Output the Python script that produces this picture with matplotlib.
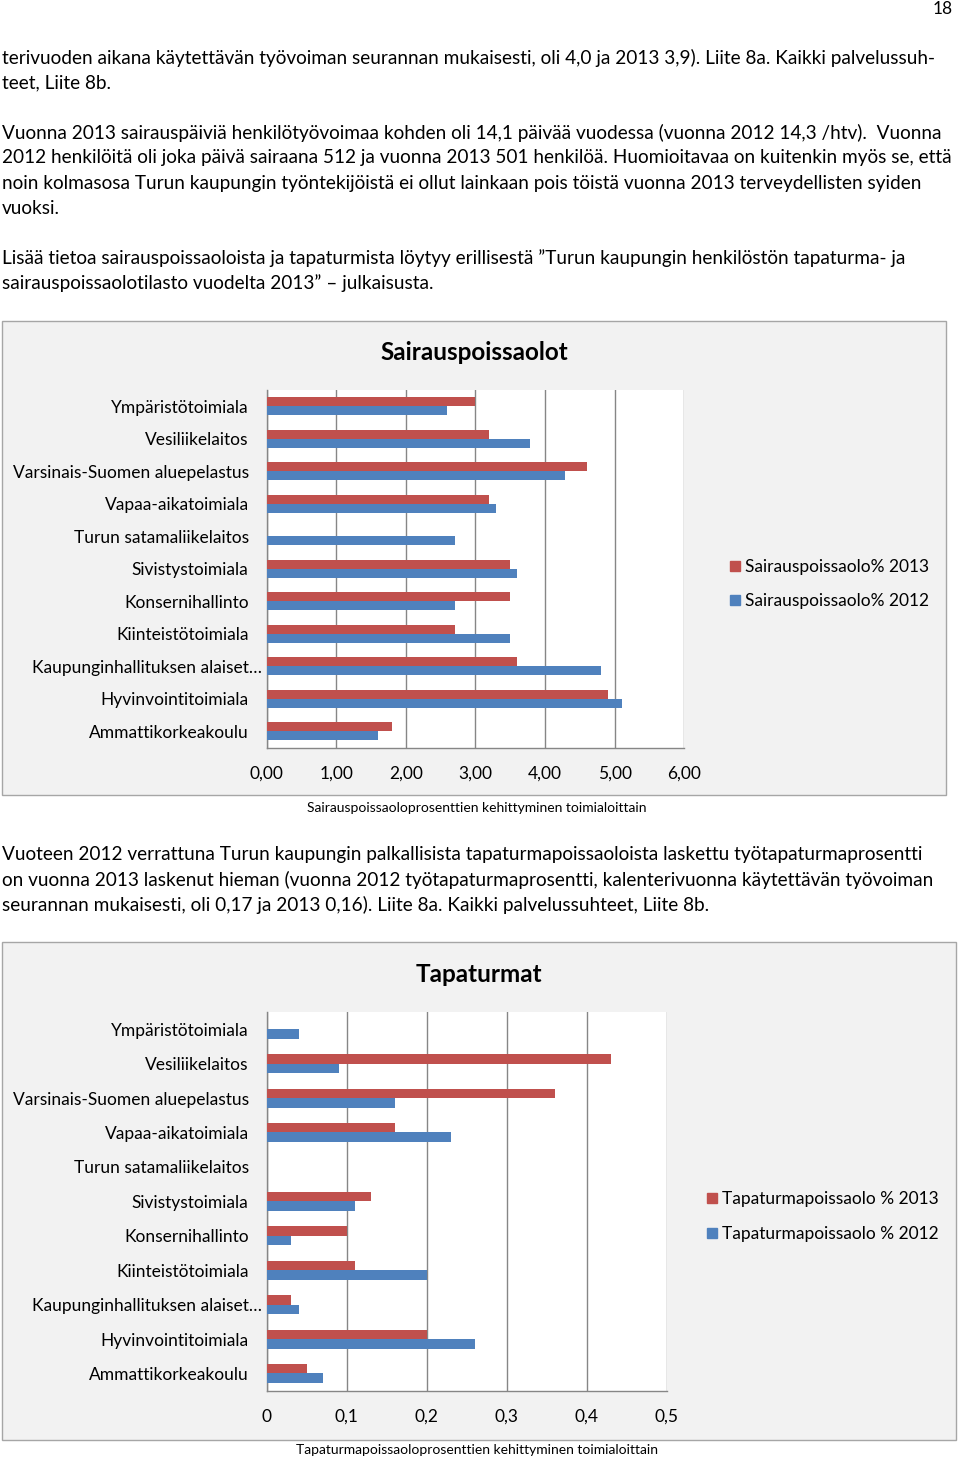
import numpy as np
import matplotlib
matplotlib.use("Agg")
import matplotlib.pyplot as plt
from matplotlib.patches import Rectangle, Patch
from matplotlib.transforms import ScaledTranslation

plt.rcParams['font.family'] = ['Lato', 'DejaVu Sans']

# categories, top to bottom as in the chart
categories = ['Ympäristötoimiala', 'Vesiliikelaitos', 'Varsinais-Suomen aluepelastus',
              'Vapaa-aikatoimiala', 'Turun satamaliikelaitos', 'Sivistystoimiala',
              'Konsernihallinto', 'Kiinteistötoimiala', 'Kaupunginhallituksen alaiset…',
              'Hyvinvointitoimiala', 'Ammattikorkeakoulu']

# sairauspoissaolo %
sick_2013 = [3.00, 3.20, 4.60, 3.20, 0.00, 3.50, 3.50, 2.70, 3.60, 4.90, 1.80]
sick_2012 = [2.59, 3.79, 4.29, 3.30, 2.70, 3.60, 2.70, 3.50, 4.80, 5.10, 1.60]
sick_ticks = [0, 1, 2, 3, 4, 5, 6]
sick_ticklabels = ['0,00', '1,00', '2,00', '3,00', '4,00', '5,00', '6,00']

# tapaturmapoissaolo %
acc_2013 = [0.00, 0.43, 0.36, 0.16, 0.00, 0.13, 0.10, 0.11, 0.03, 0.20, 0.05]
acc_2012 = [0.04, 0.09, 0.16, 0.23, 0.00, 0.11, 0.03, 0.20, 0.04, 0.26, 0.07]
acc_ticks = [0, 0.1, 0.2, 0.3, 0.4, 0.5]
acc_ticklabels = ['0', '0,1', '0,2', '0,3', '0,4', '0,5']

body_lines = [
    (58, "terivuoden aikana käytettävän työvoiman seurannan mukaisesti, oli 4,0 ja 2013 3,9). Liite 8a. Kaikki palvelussuh-"),
    (83, "teet, Liite 8b."),
    (133, "Vuonna 2013 sairauspäiviä henkilötyövoimaa kohden oli 14,1 päivää vuodessa (vuonna 2012 14,3 /htv).  Vuonna"),
    (158, "2012 henkilöitä oli joka päivä sairaana 512 ja vuonna 2013 501 henkilöä. Huomioitavaa on kuitenkin myös se, että"),
    (183, "noin kolmasosa Turun kaupungin työntekijöistä ei ollut lainkaan pois töistä vuonna 2013 terveydellisten syiden"),
    (208, "vuoksi."),
    (258, "Lisää tietoa sairauspoissaoloista ja tapaturmista löytyy erillisestä ”Turun kaupungin henkilöstön tapaturma- ja"),
    (283, "sairauspoissaolotilasto vuodelta 2013” – julkaisusta."),
    (855, "Vuoteen 2012 verrattuna Turun kaupungin palkallisista tapaturmapoissaoloista laskettu työtapaturmaprosentti"),
    (880, "on vuonna 2013 laskenut hieman (vuonna 2012 työtapaturmaprosentti, kalenterivuonna käytettävän työvoiman"),
    (905, "seurannan mukaisesti, oli 0,17 ja 2013 0,16). Liite 8a. Kaikki palvelussuhteet, Liite 8b."),
]

RED = '#C0504D'
BLUE = '#4F81BD'
GRID = '#868686'
W, H = 960, 1461


def fx(x):
    return x / W


def fy(y):
    return 1 - y / H


fig = plt.figure(figsize=(9.6, 14.61), dpi=100)
fig.patch.set_facecolor('white')

fig.text(fx(953), fy(9), '18', ha='right', va='center', fontsize=12.5)
for y, line in body_lines:
    fig.text(fx(2), fy(y), line, ha='left', va='center', fontsize=13.7)


def draw_chart(box, plot, title, title_xy, v13, v12, ticks, ticklabels, xmax,
               leg_labels, leg_xy, leg_space, caption, caption_y):
    x0, y0, x1, y1 = box
    fig.patches.append(Rectangle((fx(x0), fy(y1)), fx(x1 - x0), (y1 - y0) / H,
                                 transform=fig.transFigure, facecolor='#f2f2f2',
                                 edgecolor='#a6a6a6', linewidth=1, zorder=-5))
    px0, py0, px1, py1 = plot
    ax = fig.add_axes([fx(px0), fy(py1), fx(px1 - px0), (py1 - py0) / H])
    ax.set_zorder(2)
    ax.set_facecolor('white')
    y = np.arange(len(categories))
    h = 0.275
    ax.barh(y - h / 2, v13, height=h, color=RED, linewidth=0, zorder=3)
    ax.barh(y + h / 2, v12, height=h, color=BLUE, linewidth=0, zorder=3)
    ax.set_ylim(len(categories) - 0.5, -0.5)
    ax.set_xlim(0, xmax)
    ax.set_xticks(ticks)
    ax.set_xticklabels(ticklabels)
    ax.set_yticks(y)
    ax.set_yticklabels(categories)
    ax.tick_params(axis='both', length=0, labelsize=12.5, colors='black')
    ax.tick_params(axis='x', pad=13)
    ax.tick_params(axis='y', pad=13)
    # the truncated label overflows towards the axis in the original
    lab = ax.get_yticklabels()[8]
    lab.set_transform(lab.get_transform() + ScaledTranslation(0.13, 0, fig.dpi_scale_trans))
    ax.xaxis.grid(True, color=GRID, linewidth=1, zorder=0)
    ax.set_axisbelow(True)
    for s in ['top', 'right']:
        ax.spines[s].set_visible(False)
    for s in ['left', 'bottom']:
        ax.spines[s].set_color(GRID)
        ax.spines[s].set_linewidth(1)
    fig.text(fx(title_xy[0]), fy(title_xy[1]), title, ha='center', va='center',
             fontsize=17.5, fontweight='bold')
    handles = [Patch(color=RED, label=leg_labels[0]), Patch(color=BLUE, label=leg_labels[1])]
    fig.legend(handles=handles, loc='upper left',
               bbox_to_anchor=(fx(leg_xy[0]), fy(leg_xy[1])),
               bbox_transform=fig.transFigure, frameon=False, fontsize=12.5,
               handlelength=0.55, handleheight=0.55, handletextpad=0.3,
               labelspacing=leg_space, borderpad=0, borderaxespad=0)
    fig.text(fx(477), fy(caption_y), caption, ha='center', va='center', fontsize=10)
    return ax


draw_chart((2, 321, 946, 795), (266.7, 390, 684.3, 747.7), 'Sairauspoissaolot', (474, 352),
           sick_2013, sick_2012, sick_ticks, sick_ticklabels, 6,
           ['Sairauspoissaolo% 2013', 'Sairauspoissaolo% 2012'], (730, 559), 1.05,
           'Sairauspoissaoloprosenttien kehittyminen toimialoittain', 808)

draw_chart((2, 942, 956, 1440), (266.7, 1012, 666.7, 1390.7), 'Tapaturmat', (479, 974),
           acc_2013, acc_2012, acc_ticks, acc_ticklabels, 0.5,
           ['Tapaturmapoissaolo % 2013', 'Tapaturmapoissaolo % 2012'], (707, 1191), 1.1,
           'Tapaturmapoissaoloprosenttien kehittyminen toimialoittain', 1450)

fig.savefig('out.png', dpi=100)
